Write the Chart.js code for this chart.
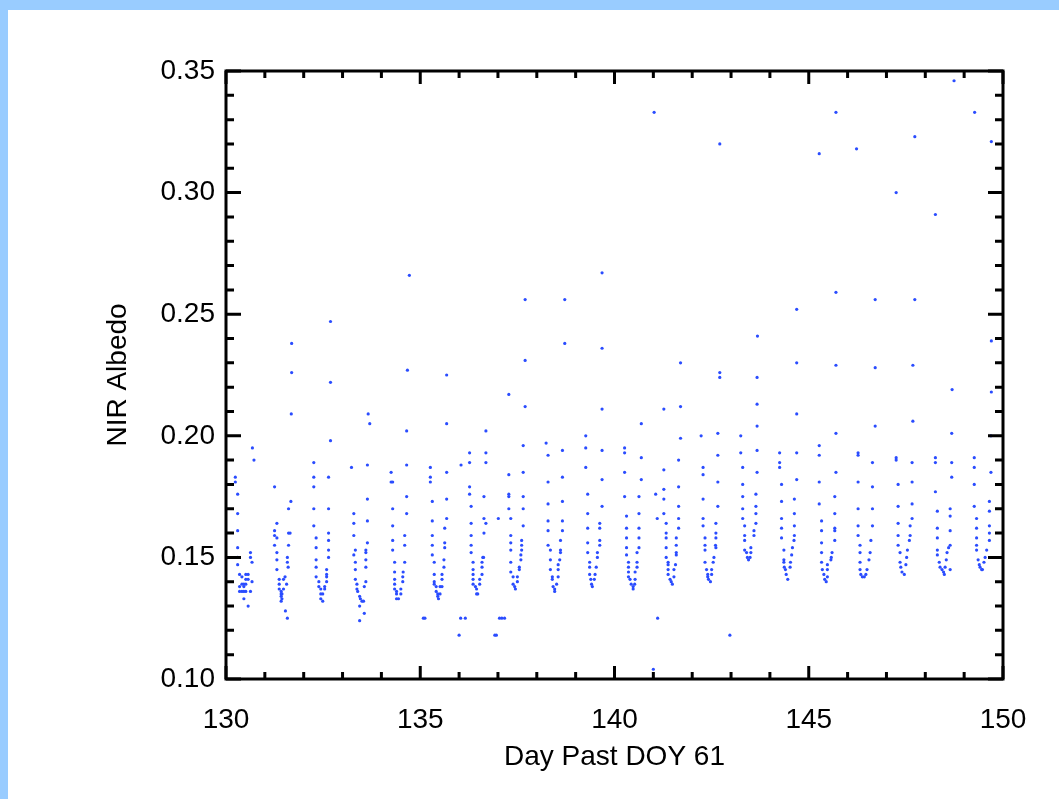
<!DOCTYPE html>
<html>
<head>
<meta charset="utf-8">
<script src="https://cdn.jsdelivr.net/npm/chart.js@4"></script>
<style>
  html, body { margin: 0; padding: 0; background: #fff; }
  canvas { display: block; }
</style>
</head>
<body>
<canvas id="chart" width="1059" height="799"></canvas>
<script>
// day past DOY 61 vs NIR albedo, one array per daily dip
const day130 = [[130.24,0.183],[130.24,0.181],[130.30,0.176],[130.30,0.168],[130.30,0.161],[130.30,0.154],[130.30,0.150],[130.30,0.147],[130.35,0.143],[130.41,0.142],[130.51,0.143],[130.57,0.143],[130.51,0.141],[130.41,0.139],[130.35,0.138],[130.46,0.139],[130.51,0.139],[130.57,0.141],[130.35,0.136],[130.41,0.136],[130.46,0.136],[130.51,0.136],[130.46,0.138],[130.63,0.136],[130.67,0.140],[130.46,0.133],[130.57,0.130],[130.63,0.152],[130.63,0.150],[130.67,0.148],[130.68,0.195],[130.72,0.190]]
const day131 = [[131.25,0.179],[131.31,0.164],[131.25,0.161],[131.25,0.159],[131.31,0.158],[131.25,0.155],[131.31,0.152],[131.31,0.149],[131.31,0.145],[131.37,0.141],[131.37,0.139],[131.37,0.137],[131.42,0.136],[131.42,0.135],[131.42,0.134],[131.42,0.132],[131.44,0.135],[131.44,0.133],[131.48,0.137],[131.48,0.141],[131.53,0.128],[131.58,0.125],[131.52,0.142],[131.56,0.139],[131.58,0.150],[131.58,0.148],[131.60,0.146],[131.61,0.155],[131.61,0.160],[131.65,0.160],[131.61,0.170],[131.67,0.173],[131.68,0.209],[131.69,0.226],[131.69,0.238]]
const day132 = [[132.26,0.189],[132.26,0.183],[132.26,0.179],[132.26,0.170],[132.26,0.163],[132.32,0.158],[132.32,0.154],[132.32,0.149],[132.32,0.146],[132.32,0.142],[132.39,0.140],[132.39,0.138],[132.44,0.137],[132.44,0.135],[132.44,0.133],[132.49,0.132],[132.49,0.135],[132.54,0.137],[132.54,0.138],[132.59,0.140],[132.59,0.142],[132.59,0.143],[132.59,0.145],[132.64,0.150],[132.64,0.153],[132.64,0.157],[132.64,0.160],[132.64,0.170],[132.64,0.183],[132.69,0.198],[132.69,0.222],[132.69,0.247]]
const day133 = [[133.23,0.187],[133.29,0.168],[133.29,0.164],[133.29,0.159],[133.33,0.153],[133.29,0.151],[133.33,0.148],[133.33,0.145],[133.33,0.141],[133.37,0.139],[133.37,0.137],[133.39,0.136],[133.44,0.134],[133.46,0.133],[133.50,0.132],[133.54,0.132],[133.44,0.124],[133.56,0.127],[133.44,0.130],[133.56,0.138],[133.60,0.140],[133.60,0.146],[133.60,0.149],[133.60,0.152],[133.60,0.153],[133.64,0.156],[133.64,0.165],[133.64,0.174],[133.64,0.188],[133.70,0.205],[133.66,0.209]]
const day134 = [[134.25,0.185],[134.25,0.181],[134.29,0.181],[134.29,0.170],[134.29,0.163],[134.29,0.157],[134.29,0.153],[134.34,0.148],[134.34,0.144],[134.34,0.141],[134.34,0.139],[134.34,0.137],[134.39,0.136],[134.39,0.135],[134.39,0.133],[134.44,0.133],[134.50,0.135],[134.50,0.137],[134.55,0.140],[134.55,0.142],[134.56,0.144],[134.60,0.148],[134.60,0.155],[134.60,0.159],[134.65,0.168],[134.65,0.175],[134.65,0.188],[134.65,0.202],[134.67,0.227],[134.72,0.266]]
const day135 = [[135.26,0.187],[135.26,0.183],[135.26,0.181],[135.31,0.173],[135.31,0.165],[135.31,0.159],[135.31,0.155],[135.31,0.151],[135.36,0.148],[135.36,0.143],[135.36,0.140],[135.36,0.139],[135.41,0.138],[135.41,0.136],[135.45,0.135],[135.45,0.134],[135.47,0.133],[135.51,0.135],[135.51,0.138],[135.56,0.138],[135.56,0.141],[135.56,0.143],[135.61,0.146],[135.61,0.149],[135.63,0.154],[135.63,0.156],[135.63,0.162],[135.68,0.166],[135.68,0.174],[135.68,0.185],[135.68,0.205],[135.68,0.225]]
const day136 = [[136.05,0.188],[136.27,0.193],[136.27,0.189],[136.27,0.179],[136.27,0.176],[136.31,0.171],[136.31,0.164],[136.31,0.159],[136.31,0.155],[136.31,0.152],[136.36,0.148],[136.36,0.145],[136.36,0.143],[136.36,0.141],[136.36,0.139],[136.42,0.138],[136.45,0.137],[136.45,0.135],[136.48,0.135],[136.53,0.141],[136.53,0.139],[136.59,0.143],[136.59,0.146],[136.59,0.148],[136.61,0.150],[136.63,0.150],[136.64,0.160],[136.64,0.166],[136.69,0.164],[136.64,0.175],[136.69,0.189],[136.69,0.193],[136.69,0.202]]
const day137 = [[137.01,0.166],[137.28,0.184],[137.28,0.176],[137.28,0.175],[137.28,0.170],[137.33,0.166],[137.33,0.159],[137.33,0.156],[137.33,0.153],[137.33,0.148],[137.33,0.144],[137.39,0.142],[137.39,0.139],[137.43,0.138],[137.45,0.137],[137.50,0.140],[137.50,0.142],[137.55,0.145],[137.55,0.146],[137.59,0.149],[137.59,0.151],[137.61,0.153],[137.61,0.155],[137.61,0.157],[137.65,0.163],[137.65,0.170],[137.65,0.175],[137.65,0.185],[137.65,0.196],[137.28,0.217],[137.70,0.212],[137.70,0.231],[137.70,0.256]]
const day138 = [[138.24,0.197],[138.29,0.192],[138.29,0.181],[138.29,0.172],[138.29,0.165],[138.29,0.161],[138.29,0.155],[138.35,0.153],[138.35,0.149],[138.35,0.145],[138.40,0.142],[138.40,0.141],[138.42,0.138],[138.46,0.137],[138.46,0.136],[138.51,0.139],[138.55,0.142],[138.55,0.145],[138.55,0.147],[138.59,0.149],[138.61,0.152],[138.61,0.153],[138.61,0.157],[138.66,0.161],[138.66,0.165],[138.66,0.173],[138.66,0.183],[138.66,0.194],[138.72,0.238],[138.72,0.256]]
const day139 = [[139.26,0.200],[139.26,0.195],[139.26,0.187],[139.31,0.176],[139.31,0.168],[139.31,0.162],[139.31,0.156],[139.31,0.152],[139.36,0.148],[139.36,0.146],[139.36,0.143],[139.39,0.141],[139.41,0.139],[139.43,0.138],[139.48,0.141],[139.50,0.143],[139.53,0.146],[139.56,0.150],[139.56,0.152],[139.62,0.155],[139.62,0.157],[139.62,0.162],[139.62,0.164],[139.68,0.171],[139.68,0.182],[139.68,0.194],[139.68,0.211],[139.68,0.236],[139.68,0.267]]
const day140 = [[140.26,0.195],[140.26,0.193],[140.26,0.185],[140.26,0.175],[140.31,0.167],[140.31,0.162],[140.31,0.158],[140.31,0.154],[140.31,0.151],[140.36,0.148],[140.36,0.146],[140.36,0.144],[140.36,0.142],[140.40,0.141],[140.43,0.139],[140.48,0.138],[140.48,0.137],[140.52,0.139],[140.53,0.141],[140.53,0.144],[140.58,0.146],[140.58,0.148],[140.58,0.152],[140.63,0.154],[140.63,0.158],[140.63,0.162],[140.63,0.168],[140.63,0.175],[140.69,0.182],[140.69,0.191],[140.69,0.205]]
const day141 = [[141.02,0.333],[141.06,0.176],[141.10,0.166],[141.27,0.186],[141.27,0.178],[141.27,0.174],[141.27,0.168],[141.27,0.211],[141.33,0.164],[141.33,0.160],[141.33,0.158],[141.33,0.154],[141.33,0.150],[141.38,0.148],[141.38,0.147],[141.38,0.145],[141.38,0.143],[141.43,0.141],[141.46,0.140],[141.49,0.139],[141.53,0.142],[141.53,0.145],[141.57,0.147],[141.59,0.151],[141.59,0.152],[141.59,0.155],[141.59,0.158],[141.65,0.162],[141.65,0.166],[141.65,0.171],[141.65,0.179],[141.65,0.190],[141.70,0.199],[141.70,0.212],[141.70,0.230]]
const day142 = [[142.23,0.200],[142.28,0.187],[142.28,0.184],[142.28,0.174],[142.28,0.166],[142.28,0.163],[142.33,0.158],[142.33,0.155],[142.33,0.153],[142.33,0.148],[142.37,0.145],[142.40,0.143],[142.40,0.142],[142.42,0.141],[142.47,0.140],[142.50,0.143],[142.50,0.145],[142.54,0.148],[142.56,0.150],[142.61,0.154],[142.60,0.155],[142.61,0.158],[142.61,0.160],[142.61,0.164],[142.66,0.171],[142.66,0.181],[142.66,0.192],[142.66,0.201],[142.71,0.224],[142.71,0.226],[142.71,0.320]]
const day143 = [[143.25,0.200],[143.25,0.193],[143.30,0.187],[143.30,0.180],[143.30,0.175],[143.30,0.170],[143.30,0.166],[143.35,0.163],[143.35,0.159],[143.35,0.157],[143.35,0.153],[143.40,0.152],[143.42,0.150],[143.45,0.149],[143.49,0.150],[143.51,0.152],[143.51,0.154],[143.59,0.159],[143.59,0.161],[143.64,0.164],[143.64,0.168],[143.64,0.171],[143.64,0.176],[143.67,0.185],[143.67,0.194],[143.67,0.204],[143.67,0.213],[143.67,0.224],[143.68,0.241]]
const day144 = [[144.25,0.193],[144.25,0.189],[144.25,0.187],[144.30,0.180],[144.30,0.173],[144.30,0.166],[144.30,0.162],[144.30,0.158],[144.36,0.153],[144.36,0.149],[144.36,0.148],[144.37,0.146],[144.40,0.145],[144.42,0.143],[144.46,0.141],[144.52,0.146],[144.53,0.148],[144.56,0.151],[144.58,0.154],[144.62,0.157],[144.63,0.159],[144.63,0.163],[144.63,0.168],[144.63,0.174],[144.69,0.182],[144.69,0.193],[144.69,0.209],[144.69,0.230],[144.69,0.252]]
const day145 = [[145.27,0.196],[145.27,0.192],[145.27,0.181],[145.27,0.172],[145.27,0.316],[145.33,0.165],[145.33,0.161],[145.33,0.156],[145.33,0.152],[145.33,0.148],[145.35,0.145],[145.39,0.143],[145.41,0.141],[145.45,0.140],[145.48,0.142],[145.48,0.145],[145.48,0.147],[145.57,0.149],[145.58,0.150],[145.60,0.152],[145.67,0.157],[145.67,0.161],[145.67,0.162],[145.67,0.168],[145.67,0.175],[145.70,0.185],[145.70,0.201],[145.70,0.229],[145.70,0.259],[145.70,0.333]]
const day146 = [[146.23,0.318],[146.27,0.193],[146.27,0.192],[146.27,0.181],[146.27,0.170],[146.27,0.163],[146.27,0.159],[146.32,0.155],[146.32,0.152],[146.32,0.148],[146.32,0.145],[146.34,0.143],[146.38,0.142],[146.43,0.142],[146.47,0.143],[146.50,0.145],[146.55,0.149],[146.58,0.152],[146.60,0.157],[146.64,0.163],[146.64,0.170],[146.64,0.179],[146.64,0.189],[146.71,0.204],[146.71,0.228],[146.71,0.256]]
const day147 = [[147.25,0.191],[147.25,0.190],[147.25,0.300],[147.30,0.180],[147.30,0.171],[147.30,0.164],[147.30,0.159],[147.30,0.155],[147.35,0.152],[147.35,0.148],[147.37,0.146],[147.40,0.144],[147.46,0.143],[147.50,0.147],[147.52,0.150],[147.54,0.153],[147.59,0.157],[147.61,0.159],[147.61,0.163],[147.66,0.166],[147.66,0.172],[147.66,0.181],[147.66,0.189],[147.68,0.206],[147.68,0.229],[147.73,0.256],[147.73,0.323]]
const day148 = [[148.26,0.191],[148.26,0.189],[148.26,0.177],[148.26,0.291],[148.31,0.169],[148.31,0.162],[148.31,0.158],[148.31,0.153],[148.31,0.151],[148.36,0.148],[148.38,0.146],[148.43,0.145],[148.47,0.144],[148.49,0.143],[148.51,0.146],[148.54,0.149],[148.56,0.152],[148.60,0.154],[148.64,0.155],[148.64,0.145],[148.64,0.161],[148.64,0.167],[148.64,0.170],[148.68,0.183],[148.68,0.189],[148.68,0.201],[148.69,0.219],[148.74,0.346]]
const day149 = [[149.26,0.191],[149.26,0.187],[149.26,0.180],[149.26,0.171],[149.27,0.333],[149.32,0.166],[149.32,0.162],[149.32,0.158],[149.32,0.155],[149.32,0.153],[149.36,0.149],[149.39,0.147],[149.41,0.146],[149.45,0.145],[149.47,0.145],[149.51,0.148],[149.54,0.150],[149.58,0.153],[149.65,0.157],[149.65,0.160],[149.65,0.163],[149.65,0.169],[149.65,0.173],[149.69,0.185],[149.69,0.200],[149.70,0.218],[149.70,0.239],[149.70,0.321]]
const lowPoints = [[135.08,0.125],[135.12,0.125],[136.04,0.125],[136.16,0.125],[136.00,0.118],[137.04,0.125],[137.10,0.125],[137.17,0.125],[136.92,0.118],[136.96,0.118],[141.00,0.104],[141.11,0.125],[142.97,0.118]]

const xTicks = [130, 135, 140, 145, 150]
const yTicks = [0.10, 0.15, 0.20, 0.25, 0.30, 0.35]

const allPoints = [day130, day131, day132, day133, day134, day135, day136, day137, day138, day139,
    day140, day141, day142, day143, day144, day145, day146, day147, day148, day149, lowPoints]
    .flat().map(p => ({x: p[0], y: p[1]}))

const labelFont = {family: "'Liberation Sans', Arial, sans-serif", size: 28}

// IDL style box: blue page frame, heavy axes, inward major/minor ticks on all sides
const idlAxes = {
    id: 'idlAxes',
    beforeDraw(chart) {
        const ctx = chart.ctx
        ctx.save()
        ctx.fillStyle = '#fff'
        ctx.fillRect(0, 0, chart.width, chart.height)
        ctx.fillStyle = '#99ccff'
        ctx.fillRect(0, 0, chart.width, 10)
        ctx.fillRect(0, 0, 8, chart.height)
        ctx.restore()
    },
    afterDraw(chart) {
        const {ctx, chartArea: a, scales: {x, y}} = chart
        ctx.save()
        ctx.strokeStyle = '#000'
        ctx.lineWidth = 3
        ctx.beginPath()
        for (let d = 130; d <= 150; d++) {
            const px = x.getPixelForValue(d)
            const len = d % 5 === 0 ? 13 : 7
            ctx.moveTo(px, a.bottom); ctx.lineTo(px, a.bottom - len)
            ctx.moveTo(px, a.top); ctx.lineTo(px, a.top + len)
        }
        for (let i = 10; i <= 35; i++) {
            const py = y.getPixelForValue(i / 100)
            const len = i % 5 === 0 ? 15 : 8
            ctx.moveTo(a.left, py); ctx.lineTo(a.left + len, py)
            ctx.moveTo(a.right, py); ctx.lineTo(a.right - len, py)
        }
        ctx.stroke()
        ctx.strokeRect(a.left, a.top, a.right - a.left, a.bottom - a.top)
        ctx.restore()
    }
}

new Chart(document.getElementById('chart'), {
    type: 'scatter',
    data: {
        datasets: [{
            data: allPoints,
            pointRadius: 1.6,
            pointBorderWidth: 0,
            pointBackgroundColor: '#2a4cff',
            borderColor: '#2a4cff'
        }]
    },
    options: {
        responsive: false,
        animation: false,
        layout: {padding: {top: 71, right: 56, left: 0, bottom: 0}},
        plugins: {legend: {display: false}, tooltip: {enabled: false}},
        scales: {
            x: {
                type: 'linear', min: 130, max: 150,
                grid: {display: false, drawTicks: false},
                border: {display: false},
                afterBuildTicks: s => { s.ticks = xTicks.map(v => ({value: v})) },
                afterFit: s => { s.height = 120 },
                ticks: {padding: 24, color: '#000', font: labelFont, maxRotation: 0, autoSkip: false},
                title: {display: true, text: 'Day Past DOY 61', color: '#000', font: labelFont, padding: {top: 0, bottom: 25}}
            },
            y: {
                type: 'linear', min: 0.10, max: 0.35,
                grid: {display: false, drawTicks: false},
                border: {display: false},
                afterBuildTicks: s => { s.ticks = yTicks.map(v => ({value: v})) },
                afterFit: s => { s.width = 226 },
                ticks: {padding: 11, color: '#000', font: labelFont, callback: v => v.toFixed(2)},
                title: {display: true, text: 'NIR Albedo', color: '#000', font: labelFont, padding: {top: 101, bottom: 0}}
            }
        }
    },
    plugins: [idlAxes]
})
</script>
</body>
</html>
